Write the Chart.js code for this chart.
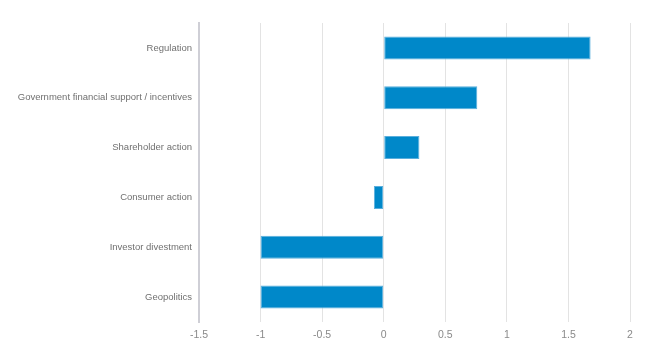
<!DOCTYPE html>
<html lang="en">
<head>
  <meta charset="UTF-8">
  <title>Drivers</title>
  <script src="https://cdn.jsdelivr.net/npm/chart.js@4.4.1/dist/chart.umd.min.js"></script>
  <style>
    body { margin: 0; background: #fff; }
    canvas { display: block; }
  </style>
</head>
<body>
  <canvas id="drivers" width="650" height="347"></canvas>

  <script>
    const categories = [
      "Regulation",
      "Government financial support / incentives",
      "Shareholder action",
      "Consumer action",
      "Investor divestment",
      "Geopolitics"
    ];
    const scores = [1.68, 0.76, 0.29, -0.08, -1, -1];
    const xMin = -1.5;
    const xMax = 2;
    const xStep = 0.5;

    const ctx = document.getElementById("drivers").getContext("2d");

    new Chart(ctx, {
      type: "bar",
      data: {
        labels: categories,
        datasets: [{
          data: scores,
          backgroundColor: "#0088c9",
          borderColor: "#5aaedc",
          borderWidth: 1,
          borderSkipped: false,
          barPercentage: 0.92,
          categoryPercentage: 0.5
        }]
      },
      options: {
        indexAxis: "y",
        responsive: false,
        animation: false,
        layout: { padding: { top: 23, right: 20, bottom: 0, left: 0 } },
        plugins: {
          legend: { display: false },
          tooltip: { enabled: false }
        },
        scales: {
          x: {
            min: xMin,
            max: xMax,
            ticks: {
              stepSize: xStep,
              color: "#8a8a8a",
              font: { family: "Arial, 'Liberation Sans', sans-serif", size: 10.5 },
              padding: 7,
              callback: v => String(v)
            },
            grid: {
              color: "#e3e3e3",
              lineWidth: 1,
              drawTicks: false
            },
            border: { display: false },
            afterFit: scale => { scale.height = 25; }
          },
          y: {
            ticks: {
              color: "#707070",
              font: { family: "Arial, 'Liberation Sans', sans-serif", size: 9.5 },
              padding: 7
            },
            grid: { display: false, drawTicks: false },
            border: { display: true, color: "#cfcfd6", width: 2 },
            afterFit: scale => { scale.width = 199; }
          }
        }
      }
    });
  </script>
</body>
</html>
